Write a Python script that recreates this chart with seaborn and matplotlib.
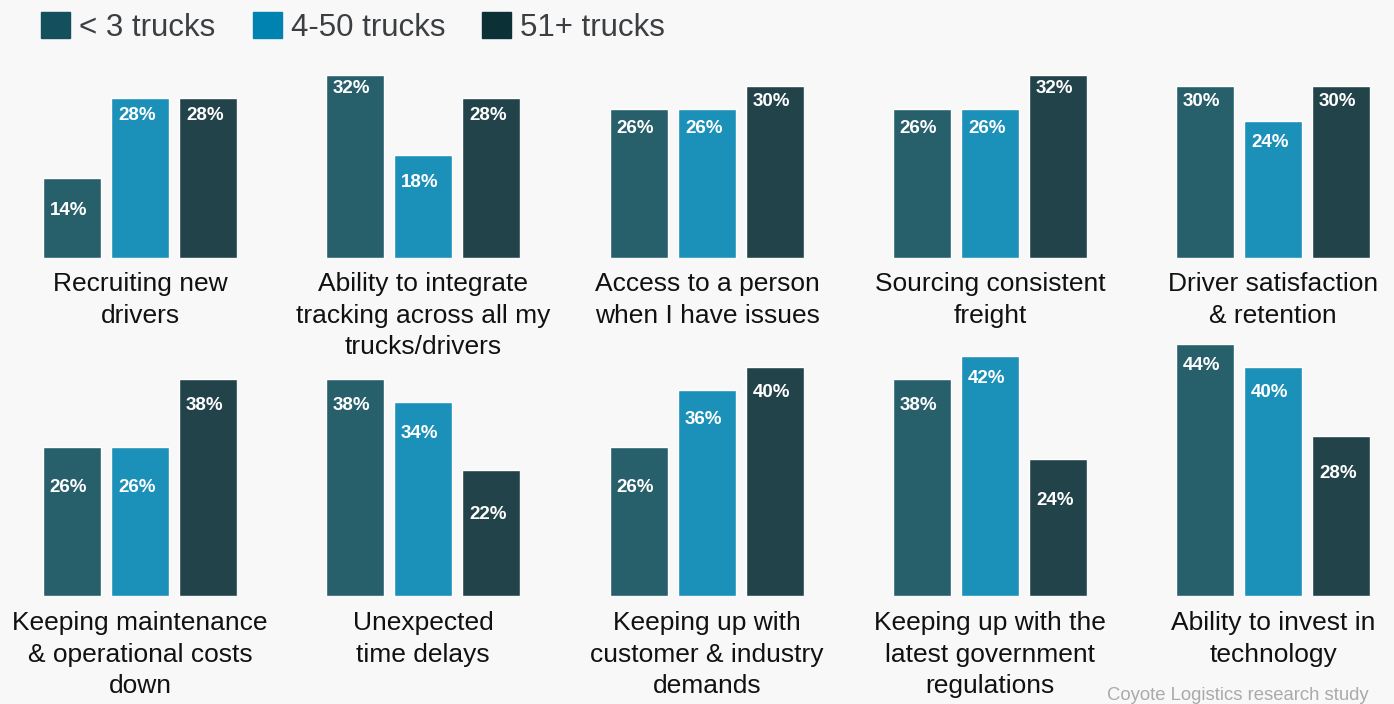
import matplotlib
matplotlib.use("Agg")
import matplotlib.pyplot as plt
import matplotlib.patches as mpatches
import pandas as pd
import seaborn as sns

# data
groups = ["< 3 trucks", "4-50 trucks", "51+ trucks"]
challenges = [
    "Recruiting new\ndrivers",
    "Ability to integrate\ntracking across all my\ntrucks/drivers",
    "Access to a person\nwhen I have issues",
    "Sourcing consistent\nfreight",
    "Driver satisfaction\n& retention",
    "Keeping maintenance\n& operational costs\ndown",
    "Unexpected\ntime delays",
    "Keeping up with\ncustomer & industry\ndemands",
    "Keeping up with the\nlatest government\nregulations",
    "Ability to invest in\ntechnology",
]
small_fleet = [14, 32, 26, 26, 30, 26, 38, 26, 38, 44]
mid_fleet = [28, 18, 26, 26, 24, 26, 34, 36, 42, 40]
large_fleet = [28, 28, 30, 32, 30, 38, 22, 40, 24, 28]

bar_colors = ["#27606b", "#1b90b8", "#23434a"]
legend_colors = ["#134f5c", "#0083b0", "#0b3035"]
bg = "#f8f8f8"

sns.set_theme(style="white")
plt.rcParams["font.family"] = ["Liberation Sans", "DejaVu Sans"]

W, H = 1394, 704
fig = plt.figure(figsize=(W / 100, H / 100), dpi=100, facecolor=bg)

panel_left = [43, 326, 610, 893, 1176]
row_base = [258, 596]
px_per_unit = 5.72
ymax = 45
ax_w = 194
ax_h = ymax * px_per_unit
label_off = [8.2, 11.8]

for k, name in enumerate(challenges):
    row, col = divmod(k, 5)
    left = panel_left[col]
    base = row_base[row]
    ax = fig.add_axes([left / W, (H - base) / H, ax_w / W, ax_h / H])
    df = pd.DataFrame({"group": groups,
                       "value": [small_fleet[k], mid_fleet[k], large_fleet[k]]})
    sns.barplot(data=df, x="group", y="value", hue="group", palette=bar_colors,
                hue_order=groups, order=groups, width=0.85, ax=ax, legend=False,
                saturation=1)
    ax.set_xlim(-0.425, 2.425)
    ax.set_ylim(0, ymax)
    ax.axis("off")
    for i, v in enumerate(df["value"]):
        ax.text(i - 0.425 + 0.1, 1.185 * v - label_off[row], f"{v}%",
                ha="left", va="center", color="white", fontsize=13.5,
                fontweight="bold")
    cx = (left + ax_w / 2) / W
    ty = [272, 611][row]
    fig.text(cx, 1 - ty / H, name, ha="center", va="top", fontsize=19,
             color="#111111", linespacing=1.4)

handles = [mpatches.Patch(color=c, label=g) for c, g in zip(legend_colors, groups)]
fig.legend(handles=handles, loc="upper left", bbox_to_anchor=(28.5 / W, 1 + 1 / H),
           ncol=3, frameon=False, fontsize=22.5, handlelength=0.93,
           handleheight=0.93, handletextpad=0.29, columnspacing=1.19,
           labelcolor="#3c3f42", borderaxespad=0)

fig.text(1369 / W, 4 / H, "Coyote Logistics research study", ha="right",
         va="baseline", fontsize=13.3, color="#aaaaaa")

fig.savefig("out.png", dpi=100, facecolor=bg)
